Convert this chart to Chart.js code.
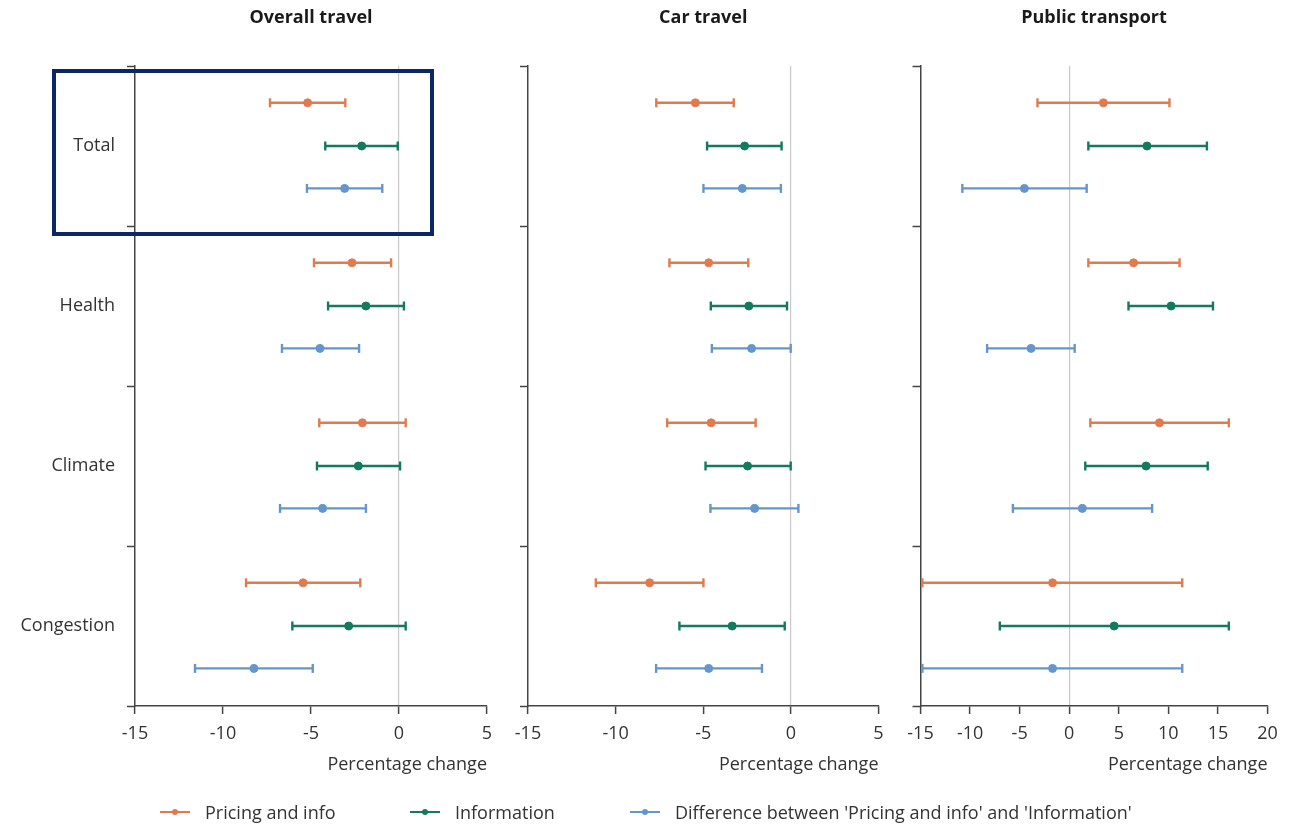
<!DOCTYPE html>
<html>
<head>
<meta charset="utf-8">
<title>Travel change by message type</title>
<script src="https://cdn.jsdelivr.net/npm/chart.js@4.4.1/dist/chart.umd.min.js"></script>
<style>
    body { margin: 0; background: #fff; }
    #wrap { position: relative; width: 1302px; height: 824px; overflow: hidden; font-family: 'Open Sans', sans-serif; }
    #wrap canvas { position: absolute; left: 0; top: 0; }
    .focus-box { position: absolute; left: 52px; top: 69px; width: 382px; height: 167px; box-sizing: border-box; border: 4px solid #0c2766; }
    .legend-item { position: absolute; top: 801px; height: 22px; display: flex; align-items: center; font-size: 18px; color: #333; white-space: nowrap; }
    .legend-item svg { margin-right: 15px; }
</style>
</head>
<body>
<div id="wrap">
    <canvas id="panel0" width="1302" height="824"></canvas>
    <canvas id="panel1" width="1302" height="824"></canvas>
    <canvas id="panel2" width="1302" height="824"></canvas>
    <div class="focus-box"></div>
</div>
<script>
// Categories (top to bottom) and series
const categories = ['Total', 'Health', 'Climate', 'Congestion'];
const seriesNames = ['Pricing and info', 'Information', "Difference between 'Pricing and info' and 'Information'"];
const panelTitles = ['Overall travel', 'Car travel', 'Public transport'];
const xMins = [-15, -15, -15];
const xMaxs = [5, 5, 20];

// Each row: [lower bound, estimate, upper bound], one row per category
const overallPricing = [[-7.33, -5.19, -3.05], [-4.83, -2.67, -0.45], [-4.53, -2.08, 0.38], [-8.69, -5.45, -2.20]];
const overallInfo    = [[-4.19, -2.12, -0.07], [-4.03, -1.88, 0.28], [-4.66, -2.31, 0.06], [-6.06, -2.86, 0.38]];
const overallDiff    = [[-5.23, -3.09, -0.95], [-6.65, -4.49, -2.27], [-6.76, -4.34, -1.88], [-11.59, -8.24, -4.90]];

const carPricing = [[-7.68, -5.45, -3.26], [-6.93, -4.69, -2.43], [-7.06, -4.55, -2.01], [-11.13, -8.06, -4.99]];
const carInfo    = [[-4.78, -2.64, -0.53], [-4.57, -2.40, -0.22], [-4.87, -2.47, -0.01], [-6.36, -3.35, -0.35]];
const carDiff    = [[-4.99, -2.77, -0.57], [-4.51, -2.24, -0.01], [-4.59, -2.07, 0.43], [-7.69, -4.69, -1.65]];

const publicPricing = [[-3.20, 3.45, 10.11], [1.93, 6.49, 11.13], [2.13, 9.10, 16.10], [-14.81, -1.68, 11.40]];
const publicInfo    = [[1.93, 7.85, 13.89], [5.98, 10.28, 14.50], [1.62, 7.75, 13.97], [-7.00, 4.53, 16.10]];
const publicDiff    = [[-10.78, -4.52, 1.76], [-8.28, -3.85, 0.55], [-5.68, 1.32, 8.36], [-14.81, -1.68, 11.40]];

const panelData = [
    [overallPricing, overallInfo, overallDiff],
    [carPricing, carInfo, carDiff],
    [publicPricing, publicInfo, publicDiff]
];

// Styling and layout
const seriesColors = ['#E27A50', '#137A5F', '#6496CD'];
const seriesOffsets = [0.23, 0.5, 0.765];   // vertical slot inside each category band
const plotAreas = [
    { left: 135, right: 487, axisWidth: 135, showLabels: true },
    { left: 528, right: 878.5, axisWidth: 20, showLabels: false },
    { left: 920.5, right: 1267.5, axisWidth: 20, showLabels: false }
];
const CANVAS_W = 1302;
const PLOT_BOTTOM = 706;
const AXIS_BOTTOM = 780;
const TEXT = '#333';
const FONT = "'Open Sans', sans-serif";

Chart.defaults.font.family = FONT;
Chart.defaults.color = TEXT;

// Whisker points: lower cap, estimate dot, upper cap, then a gap
function whiskerPoints(rows, k) {
    const pts = [];
    rows.forEach((r, i) => {
        const y = i + seriesOffsets[k];
        pts.push({ x: r[0], y }, { x: r[1], y }, { x: r[2], y }, { x: null, y: null });
    });
    return pts;
}

function isDot(ctx) {
    return ctx.dataIndex % 4 === 1;
}

function buildPanel(p) {
    const area = plotAreas[p];
    const datasets = panelData[p].map((rows, k) => ({
        label: seriesNames[k],
        data: whiskerPoints(rows, k),
        borderColor: seriesColors[k],
        backgroundColor: seriesColors[k],
        borderWidth: 2.4,
        showLine: true,
        spanGaps: false,
        tension: 0,
        clip: false,
        pointStyle: ctx => isDot(ctx) ? 'circle' : 'line',
        rotation: ctx => isDot(ctx) ? 0 : 90,
        pointRadius: ctx => isDot(ctx) ? 4 : 4.5,
        pointBorderWidth: ctx => isDot(ctx) ? 1 : 2.4,
        pointBorderColor: seriesColors[k],
        pointBackgroundColor: seriesColors[k],
        pointHoverRadius: 0,
        xAxisID: 'x',
        yAxisID: 'y'
    }));

    new Chart(document.getElementById('panel' + p), {
        type: 'scatter',
        data: { datasets },
        options: {
            responsive: false,
            animation: false,
            events: [],
            layout: {
                padding: {
                    left: area.left - area.axisWidth,
                    right: CANVAS_W - area.right,
                    top: 0,
                    bottom: 824 - AXIS_BOTTOM
                }
            },
            plugins: {
                legend: { display: false },
                tooltip: { enabled: false },
                title: {
                    display: true,
                    text: panelTitles[p],
                    fullSize: false,
                    color: '#1a1a1a',
                    font: { size: 18, weight: 'bold' },
                    padding: { top: 7, bottom: 37.4 }
                }
            },
            scales: {
                x: {
                    type: 'linear',
                    position: 'bottom',
                    min: xMins[p],
                    max: xMaxs[p],
                    ticks: { stepSize: 5, padding: 9, color: TEXT, font: { size: 18 } },
                    grid: {
                        color: ctx => (ctx.tick && ctx.tick.value === 0) ? '#c9c9c9' : 'rgba(0,0,0,0)',
                        lineWidth: 1.2,
                        tickColor: '#444',
                        tickLength: 8,
                        tickWidth: 1.5
                    },
                    border: { color: '#444', width: 1.5 },
                    title: {
                        display: true,
                        text: 'Percentage change',
                        align: 'end',
                        color: TEXT,
                        font: { size: 18 },
                        padding: { top: 0, bottom: 4 }
                    },
                    afterFit: scale => { scale.height = AXIS_BOTTOM - PLOT_BOTTOM; }
                },
                // category labels and band tick marks
                yc: {
                    type: 'category',
                    position: 'left',
                    labels: categories,
                    offset: true,
                    ticks: { display: area.showLabels, padding: 12, color: TEXT, font: { size: 18 } },
                    grid: {
                        offset: true,
                        drawOnChartArea: false,
                        color: '#444',
                        tickLength: 8,
                        tickWidth: 1.5
                    },
                    border: { color: '#444', width: 1.5 },
                    afterFit: scale => { scale.width = area.axisWidth; }
                },
                // value axis for the whiskers, same span as the category bands
                y: {
                    type: 'linear',
                    display: false,
                    reverse: true,
                    min: 0,
                    max: categories.length
                }
            }
        }
    });
}

panelTitles.forEach((t, p) => buildPanel(p));

// Legend
const legendLefts = [160, 410, 630];
const wrap = document.getElementById('wrap');
seriesNames.forEach((name, k) => {
    const item = document.createElement('div');
    item.className = 'legend-item';
    item.style.left = legendLefts[k] + 'px';
    const c = seriesColors[k];
    item.innerHTML =
        '<svg width="30" height="10"><line x1="0" y1="5" x2="30" y2="5" stroke="' + c + '" stroke-width="2"/>' +
        '<circle cx="15" cy="5" r="3" fill="' + c + '"/></svg>' +
        '<span></span>';
    item.querySelector('span').textContent = name;
    wrap.appendChild(item);
});
</script>
</body>
</html>
